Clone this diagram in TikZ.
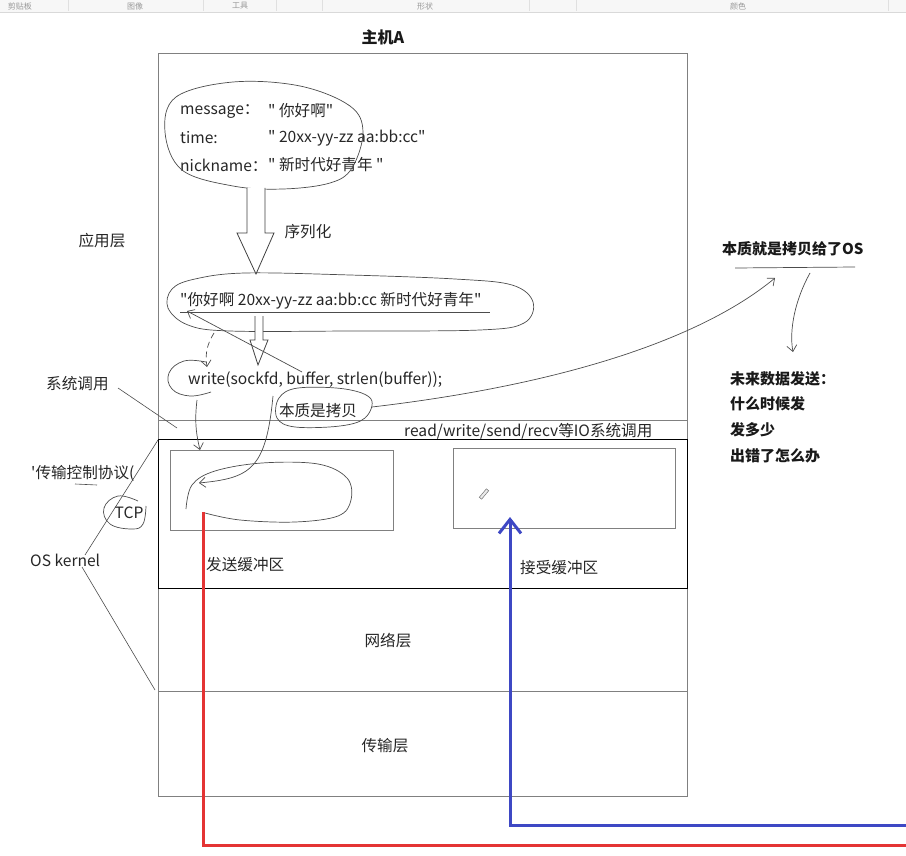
\documentclass[tikz,border=0pt]{standalone}
\usepackage{fontspec}
\setmainfont{Noto Sans CJK SC}[Ligatures=TeXOff]
\usetikzlibrary{arrows.meta}

\begin{document}
\begin{tikzpicture}[x=1pt, y=-1pt,
  txt/.style={font=\fontsize{15.6}{18}\selectfont, text=black!85, inner sep=0pt},
  boldtxt/.style={font=\fontsize{15}{18}\selectfont\bfseries, text=black!90, inner sep=0pt},
  frame/.style={draw=black!50, line width=0.9pt},
  pen/.style={draw=black!70, line width=0.7pt},
  hand/.style={pen, -{Straight Barb[length=6pt, width=10pt]}},
  hollow/.style={draw=black!75, line width=0.8pt, fill=white}]
\useasboundingbox (0,0) rectangle (906,856);

% toolbar strip
\fill[black!3] (0,0) rectangle (906,12);
\draw[black!15] (0,12.5) -- (906,12.5);
\foreach \x in {68,203,276,322,529,576,888} \draw[black!12] (\x,0) -- (\x,11);
\foreach \x/\t in {20/剪贴板,135/图像,240/工具,425/形状,738/颜色}
  \node[font=\fontsize{8}{8}\selectfont, text=black!40, inner sep=0pt] at (\x,6) {\t};

% host frame and layers
\node[boldtxt, font=\fontsize{16}{18}\selectfont\bfseries] (title) at (383,37) {主机A};
\draw[frame] (158,53) rectangle (687,796);
\draw[frame] (158,420) rectangle (687,439);
\draw[black, line width=0.9pt] (158,439) rectangle (687,588);
\draw[frame] (158,691) -- (687,691);
\node[frame, minimum width=223pt, minimum height=80pt] (sendbuf) at (281.5,490.5) {};
\node[frame, minimum width=222pt, minimum height=80pt] (recvbuf) at (564,488.5) {};
\node[draw=black!55, fill=black!8, line width=0.5pt, minimum width=3pt, minimum height=11pt, inner sep=0pt, rotate=-40] (pencil) at (484,494) {};

% application layer texts
\node[txt, anchor=west] (msgk) at (180,111) {message：};
\node[txt, anchor=west] (timek) at (180,138) {time:};
\node[txt, anchor=west] (nickk) at (180,165) {nickname：};
\node[txt, anchor=west] (msgv) at (268,111) {" 你好啊"};
\node[txt, anchor=west] (timev) at (268,138) {" 20xx-yy-zz aa:bb:cc"};
\node[txt, anchor=west] (nickv) at (268,165) {" 新时代好青年 "};
\node[txt] (ser) at (308,232) {序列化};
\node[txt, anchor=west] (buf) at (180,301) {"你好啊 20xx-yy-zz aa:bb:cc 新时代好青年"};
\draw[pen, line width=0.6pt] (buf.south west) ++(0,3) -- ++(310,0);
\node[txt, anchor=west] (write) at (188,380) {write(sockfd, buffer, strlen(buffer));};
\node[txt] (copy) at (318,411) {本质是拷贝};
\node[txt, anchor=west] (syscall) at (404,431) {read/write/send/recv等IO系统调用};
\node[txt, anchor=west] (sendlbl) at (206,565) {发送缓冲区};
\node[txt, anchor=west] (recvlbl) at (520,568) {接受缓冲区};
\node[txt] (net) at (388,641) {网络层};
\node[txt] (trans) at (385,746) {传输层};

% left side labels
\node[txt] (app) at (102,241) {应用层};
\node[txt, anchor=west] (sys) at (46,384) {系统调用};
\node[txt, anchor=west] (tcpcn) at (31,473) {'传输控制协议(};
\node[txt] (tcp) at (129,513) {TCP};
\node[txt, anchor=west] (kernel) at (30,560) {OS kernel};
\draw[pen, line width=0.6pt] (75,484) -- (97,485);
\draw[pen, line width=0.6pt] (118,388) -- (177,428);
\draw[pen, line width=0.6pt] (158,440) -- (85,555);
\draw[pen, line width=0.6pt] (82,567) -- (155,690);

% right side notes
\node[boldtxt, anchor=west] (essence) at (722,249) {本质就是拷贝给了OS};
\draw[pen] (735,268) -- (855,267);
\node[boldtxt, anchor=west] (q1) at (730,379) {未来数据发送：};
\node[boldtxt, anchor=west] (q2) at (730,404) {什么时候发};
\node[boldtxt, anchor=west] (q3) at (730,430) {发多少};
\node[boldtxt, anchor=west] (q4) at (730,456) {出错了怎么办};

% hand drawn blobs
\draw[pen] plot[smooth cycle, tension=0.6] coordinates {(176,97) (233,82) (300,86) (350,106) (363,132) (352,168) (330,183) (283,189) (233,186) (182,170) (165,132)};
\draw[pen] plot[smooth cycle, tension=0.6] coordinates {(172,289) (195,279) (245,273) (350,275) (455,279) (512,285) (533,302) (524,323) (480,330) (350,331) (230,331) (188,325) (168,308)};
\draw[pen] plot[smooth, tension=0.7] coordinates {(206,362) (184,361) (169,373) (172,389) (190,396) (211,392)};
\draw[pen] plot[smooth cycle, tension=0.6] coordinates {(279,398) (298,388) (345,389) (371,399) (365,418) (340,426) (295,427) (277,418)};
\draw[pen] plot[smooth, tension=0.6] coordinates {(186,509) (192,485) (215,471) (262,463) (318,464) (347,478) (351,500) (338,516) (295,522) (240,520) (205,513)};
\draw[pen] plot[smooth, tension=0.7] coordinates {(138,501) (118,496) (104,508) (110,524) (132,529) (143,524) (146,506)};

% hollow arrows
\draw[hollow] (247,188) -- (247,233) -- (237,233) -- (256,274) -- (274,233) -- (265,233) -- (265,188);
\draw[hollow] (255,316) -- (255,340) -- (250,340) -- (258,365) -- (268,340) -- (263,340) -- (263,316);

% hand drawn connectors
\coordinate (bufhead) at (187,311);
\coordinate (sendin) at (199,483);
\draw[hand, dashed, dash pattern=on 6pt off 4pt] (214,333) to[bend right=20] (207,367);
\draw[hand] (302,372) -- (bufhead);
\draw[hand] (197,400) to[bend right=10] (200,450);
\draw[hand] (273,396) .. controls (266,470) and (250,478) .. (sendin);
\draw[hand] (372,407) .. controls (560,385) and (700,340) .. (775,278);
\draw[hand] (810,273) .. controls (795,300) and (789,330) .. (793,352);

% data paths
\draw[line width=3pt, color={rgb,255:red,228;green,52;blue,52}] (203,512) -- (203,845) -- (906,845);
\draw[line width=3pt, color={rgb,255:red,62;green,72;blue,196}, -{Straight Barb[length=14pt, width=22pt]}] (906,825) -- (510,825) -- (510,517);
\end{tikzpicture}
\end{document}
